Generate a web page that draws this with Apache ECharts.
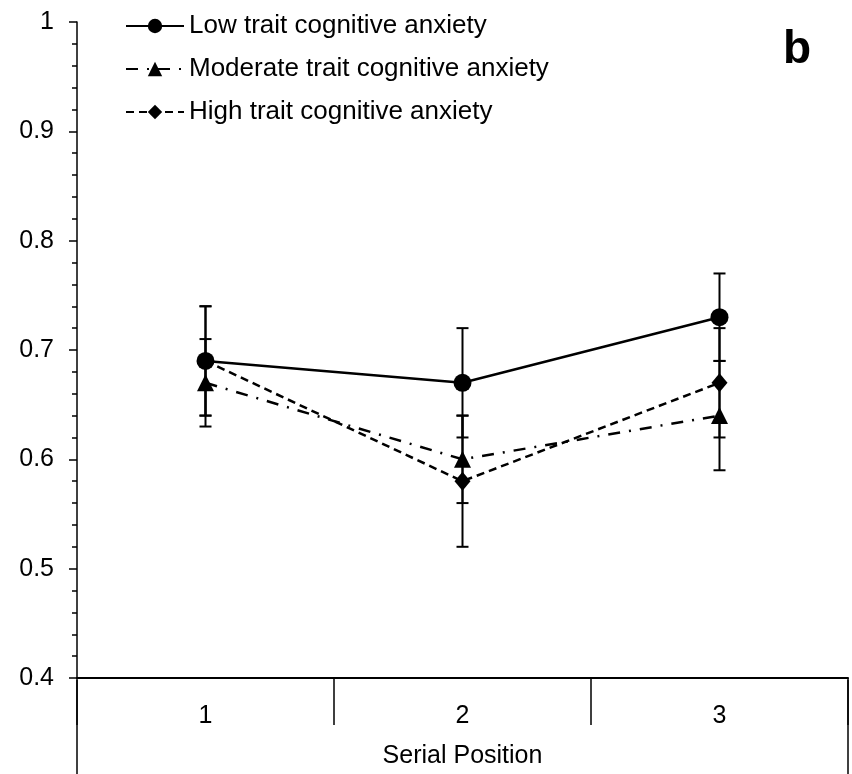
<!DOCTYPE html>
<html><head><meta charset="utf-8">
<script src="https://cdn.jsdelivr.net/npm/echarts@6/dist/echarts.min.js"></script>
<style>html,body{margin:0;padding:0;background:#fff}#c{width:852px;height:774px}</style>
</head><body><div id="c"></div>
<script>
const categories = ['1', '2', '3'];
const seriesNames = ['Low trait cognitive anxiety', 'Moderate trait cognitive anxiety', 'High trait cognitive anxiety'];
const lowValues = [0.69, 0.67, 0.73];
const moderateValues = [0.67, 0.60, 0.64];
const highValues = [0.69, 0.58, 0.67];
const lowErr = [0.05, 0.05, 0.04];
const moderateErr = [0.04, 0.04, 0.05];
const highErr = [0.05, 0.06, 0.05];
const yTicks = [0.4, 0.5, 0.6, 0.7, 0.8, 0.9, 1];

const chart = echarts.init(document.getElementById('c'));
const FONT = 'Liberation Sans, Arial, sans-serif';
const GRID = { left: 77, right: 4, top: 22, bottom: 94 };

function errData(vals, errs) {
  return vals.map((v, i) => [i, v - errs[i], v + errs[i]]);
}
function errSeries(vals, errs) {
  return {
    type: 'custom',
    silent: true,
    z: 1,
    data: errData(vals, errs),
    renderItem: function (params, api) {
      const x = api.value(0);
      const lo = api.coord([x, api.value(1)]);
      const hi = api.coord([x, api.value(2)]);
      const w = 6;
      const st = { stroke: '#000', lineWidth: 2 };
      return {
        type: 'group',
        children: [
          { type: 'line', shape: { x1: lo[0], y1: lo[1], x2: hi[0], y2: hi[1] }, style: st },
          { type: 'line', shape: { x1: lo[0] - w, y1: lo[1], x2: lo[0] + w, y2: lo[1] }, style: st },
          { type: 'line', shape: { x1: hi[0] - w, y1: hi[1], x2: hi[0] + w, y2: hi[1] }, style: st }
        ]
      };
    }
  };
}

const option = {
  animation: false,
  backgroundColor: '#fff',
  grid: GRID,
  legend: {
    orient: 'vertical',
    left: 120,
    top: 8,
    itemWidth: 58,
    itemHeight: 18,
    itemGap: 17,
    textStyle: { fontFamily: FONT, fontSize: 26, color: '#000' },
    data: seriesNames
  },
  xAxis: {
    type: 'category',
    data: categories,
    boundaryGap: true,
    axisLine: { lineStyle: { color: '#000', width: 2 } },
    axisTick: { show: true, length: 47, lineStyle: { color: '#000', width: 1.5 } },
    axisLabel: { fontFamily: FONT, fontSize: 25, color: '#000', margin: 26 },
    name: 'Serial Position',
    nameLocation: 'middle',
    nameGap: 66,
    nameTextStyle: { fontFamily: FONT, fontSize: 25, color: '#000' }
  },
  yAxis: {
    type: 'value',
    min: 0.4,
    max: 1,
    interval: 0.1,
    axisLine: { show: true, lineStyle: { color: '#000', width: 1.5 } },
    axisTick: { show: true, length: 8, lineStyle: { color: '#000', width: 1.5 } },
    minorTick: { show: true, splitNumber: 5, length: 5, lineStyle: { color: '#000', width: 1.5 } },
    splitLine: { show: false },
    axisLabel: { fontFamily: FONT, fontSize: 25, color: '#000', margin: 23,
      formatter: v => { const t = yTicks.find(k => Math.abs(k - v) < 1e-6); return t === undefined ? '' : String(t); } }
  },
  series: [
    errSeries(lowValues, lowErr),
    errSeries(moderateValues, moderateErr),
    errSeries(highValues, highErr),
    {
      name: seriesNames[0], type: 'line', data: lowValues, z: 4,
      symbol: 'circle', symbolSize: 18,
      itemStyle: { color: '#000' },
      lineStyle: { color: '#000', width: 2.5, type: 'solid' }
    },
    {
      name: seriesNames[1], type: 'line', data: moderateValues, z: 3,
      symbol: 'triangle', symbolSize: 17,
      itemStyle: { color: '#000' },
      lineStyle: { color: '#000', width: 2.5, type: [12, 9, 2, 9] }
    },
    {
      name: seriesNames[2], type: 'line', data: highValues, z: 3,
      symbol: 'diamond', symbolSize: [16, 19],
      itemStyle: { color: '#000' },
      lineStyle: { color: '#000', width: 2.5, type: [8, 5] }
    }
  ]
};
chart.setOption(option);

// extend y-axis line and right border below the category axis (decorative axis frame)
const W = chart.getWidth();
const H = chart.getHeight();
const xl = GRID.left, xr = W - GRID.right, yb = H - GRID.bottom;
chart.setOption({
  graphic: [
    { type: 'line', shape: { x1: xl, y1: yb, x2: xl, y2: H }, style: { stroke: '#000', lineWidth: 1.5 } },
    { type: 'line', shape: { x1: xr, y1: yb, x2: xr, y2: H }, style: { stroke: '#000', lineWidth: 1.5 } },
    { type: 'text', right: 41, top: 27, style: { text: 'b', font: 'bold 46px ' + FONT, fill: '#000' } }
  ]
});
</script></body></html>
